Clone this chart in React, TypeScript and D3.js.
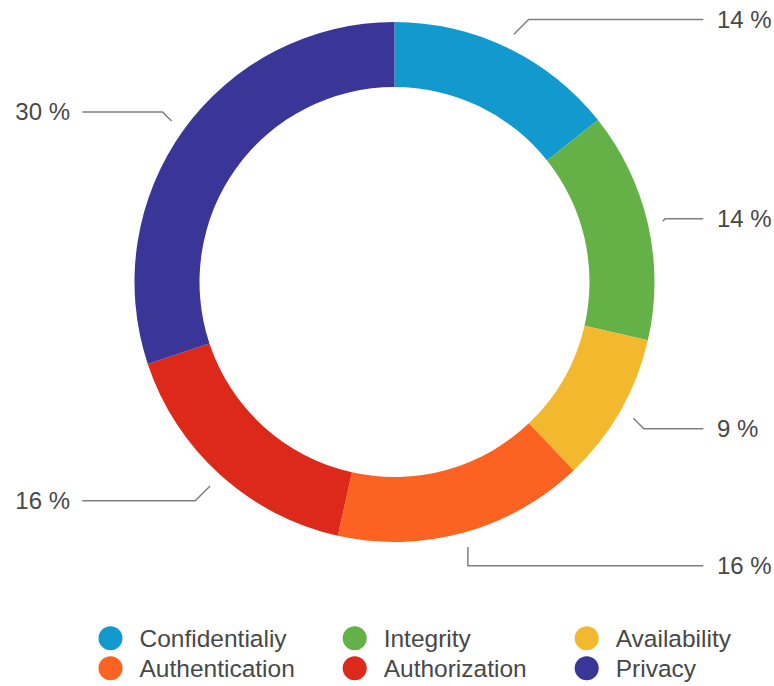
import React from "react";
import * as d3 from "d3";

const categories = ["Confidentialiy", "Integrity", "Availability", "Authentication", "Authorization", "Privacy"];
const values = [14.3, 14.3, 9.3, 15.6, 16.4, 30.1];
const colors = ["#129ACF", "#64B247", "#F3B92E", "#FC6221", "#DC291A", "#3A3697"];

const W = 774;
const H = 686;
const CX = 394.5;
const CY = 282;
const R = 260;
const RI = 195;
const FONT = "'Liberation Sans', Arial, Helvetica, sans-serif";

export default function App() {
  const total = d3.sum(values);
  const pie = d3.pie<number>().sort(null).value((d) => d).startAngle(0).endAngle(2 * Math.PI);
  const arcs = pie(values);
  const arcGen = d3.arc<d3.PieArcDatum<number>>().innerRadius(RI).outerRadius(R);
  const fmt = (v: number) => `${Math.round((v / total) * 100)} %`;

  const legendCols = [110.5, 354.7, 586.7];
  const legendRows = [638.3, 668.3];

  return (
    <svg
      width={W}
      height={H}
      style={{ position: "absolute", left: 0, top: 0, display: "block", background: "#fff" }}
      fontFamily={FONT}
    >
      <g transform={`translate(${CX},${CY})`}>
        {arcs.map((a, i) => (
          <path key={i} d={arcGen(a) || ""} fill={colors[i]} />
        ))}
      </g>
      {arcs.map((a, i) => {
        const mid = (a.startAngle + a.endAngle) / 2;
        const s = Math.sin(mid);
        const c = Math.cos(mid);
        const sx = CX + (R + 15) * s;
        const sy = CY - (R + 15) * c;
        const ly = CY - (R + 33) * c + 1.5;
        const side = s >= 0 ? 1 : -1;
        const dy = Math.abs(ly - sy);
        const ex = Math.abs(s) >= 0.35 ? sx + side * dy : sx;
        const endX = side > 0 ? 703.3 : 82.3;
        const textX = side > 0 ? 717 : 70;
        return (
          <g key={i}>
            <path
              d={`M${sx},${sy}L${ex},${ly}L${endX},${ly}`}
              fill="none"
              stroke="#7f7f7f"
              strokeWidth={1.5}
            />
            <text
              x={textX}
              y={ly}
              dy="0.35em"
              fontSize={24}
              fill="#484848"
              textAnchor={side > 0 ? "start" : "end"}
            >
              {fmt(values[i])}
            </text>
          </g>
        );
      })}
      {categories.map((name, i) => {
        const col = i % 3;
        const row = Math.floor(i / 3);
        const x = legendCols[col];
        const y = legendRows[row];
        return (
          <g key={name}>
            <ellipse cx={x} cy={y} rx={12} ry={12} fill={colors[i]} />
            <text x={x + 29} y={y} dy="0.36em" fontSize={24.5} fill="#484848">
              {name}
            </text>
          </g>
        );
      })}
    </svg>
  );
}
